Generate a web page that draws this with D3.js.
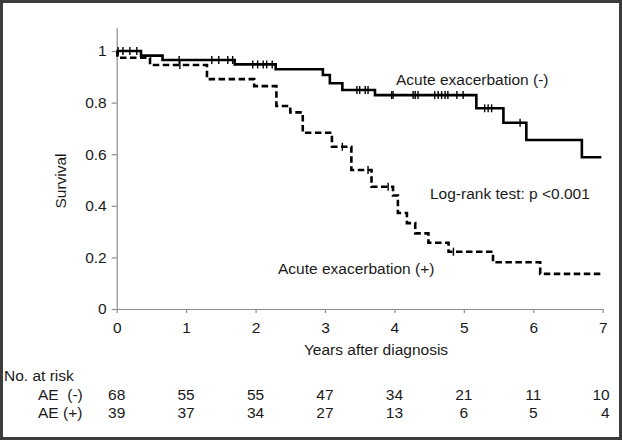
<!DOCTYPE html>
<html>
<head>
<meta charset="utf-8">
<script src="https://cdn.jsdelivr.net/npm/d3@7"></script>
<style>
  html, body { margin: 0; padding: 0; background: #fff; }
  svg { display: block; }
  text { font-family: "Liberation Sans", Arial, sans-serif; fill: #1a1a1a; }
</style>
</head>
<body>
<svg id="chart" width="622" height="440"></svg>
<script>
// ---- data ----
const xTicks = [0, 1, 2, 3, 4, 5, 6, 7];
const yTicks = [0, 0.2, 0.4, 0.6, 0.8, 1];
const yTickLabels = ["0", "0.2", "0.4", "0.6", "0.8", "1"];

// AE (-) Kaplan-Meier steps
const negTimes = [0, 0.35, 0.66, 1.70, 2.29, 2.97, 3.07, 3.25, 3.72, 5.18, 5.57, 5.90, 6.70, 6.98];
const negSurv  = [1.0, 0.982, 0.965, 0.948, 0.929, 0.907, 0.875, 0.849, 0.829, 0.778, 0.722, 0.655, 0.588, 0.588];
const negCensor = [0.02, 0.09, 0.19, 0.29, 0.90, 1.37, 1.47, 1.60, 1.67, 1.96, 2.03, 2.11, 2.16, 2.24,
                   3.46, 3.50, 3.58, 3.62, 3.96, 3.98, 4.27, 4.30, 4.34, 4.58, 4.63, 4.68, 4.73, 4.77,
                   4.90, 4.99, 5.30, 5.35, 5.40, 5.81];

// AE (+) Kaplan-Meier steps
const posTimes = [0, 0.01, 0.48, 1.30, 1.98, 2.30, 2.50, 2.68, 3.10, 3.38, 3.67, 3.98, 4.05, 4.18, 4.30, 4.49, 4.78, 5.42, 6.10, 6.98];
const posSurv  = [1.0, 0.974, 0.946, 0.891, 0.864, 0.787, 0.762, 0.683, 0.629, 0.539, 0.474, 0.440, 0.372, 0.333, 0.293, 0.257, 0.222, 0.181, 0.136, 0.136];
const posCensor = [0.91, 3.25, 3.62, 3.91, 4.85];

// numbers at risk
const riskNeg = [68, 55, 55, 47, 34, 21, 11, 10];
const riskPos = [39, 37, 34, 27, 13, 6, 5, 4];
const riskRowLabels = ["AE  (-)", "AE (+)"];

const labelNeg = "Acute exacerbation (-)";
const labelPos = "Acute exacerbation (+)";
const labelTest = "Log-rank test: p <0.001";
const xTitle = "Years after diagnosis";
const yTitle = "Survival";
const riskTitle = "No. at risk";

// ---- drawing ----
const svg = d3.select("#chart");
const W = 622, H = 440;

svg.append("rect").attr("x", 0).attr("y", 0).attr("width", W).attr("height", H).attr("fill", "#fff");
svg.append("rect").attr("x", 1.5).attr("y", 1.5).attr("width", W - 3).attr("height", H - 3)
  .attr("fill", "none").attr("stroke", "#3c3c3c").attr("stroke-width", 3);

const x = d3.scaleLinear().domain([0, 7]).range([116.7, 602.7]);
const y = d3.scaleLinear().domain([0, 1]).range([309, 51]);
const yAxisScale = d3.scaleLinear().domain([0, 1.09]).range([y(0), y(1.09)]);

const axisColor = "#8c8c8c";
const fontSize = 15.5;

// x axis
const gx = svg.append("g").attr("transform", `translate(0,${y(0)})`)
  .call(d3.axisBottom(x).tickValues(xTicks).tickFormat(d3.format("d")).tickSize(4).tickSizeOuter(0).tickPadding(9));
// y axis
const gy = svg.append("g").attr("transform", `translate(${x(0)},0)`)
  .call(d3.axisLeft(yAxisScale).tickValues(yTicks).tickFormat((d, i) => yTickLabels[i]).tickSize(5).tickSizeOuter(0).tickPadding(5));

[gx, gy].forEach(g => {
  g.select(".domain").attr("stroke", axisColor).attr("stroke-width", 1.2);
  g.selectAll(".tick line").attr("stroke", axisColor).attr("stroke-width", 1.2);
  g.selectAll(".tick text").attr("font-size", fontSize).attr("font-family", "Liberation Sans, Arial, sans-serif").attr("fill", "#1a1a1a");
});

// curves
const line = d3.line().x(d => x(d[0])).y(d => y(d[1])).curve(d3.curveStepAfter);
const negPts = negTimes.map((t, i) => [t, negSurv[i]]);
const posPts = posTimes.map((t, i) => [t, posSurv[i]]);

svg.append("path").attr("d", line(posPts)).attr("fill", "none")
  .attr("stroke", "#000").attr("stroke-width", 2.6).attr("stroke-dasharray", "6.5,3.5");
svg.append("path").attr("d", line(negPts)).attr("fill", "none")
  .attr("stroke", "#000").attr("stroke-width", 2.6);

function survAt(times, surv, t) {
  let v = surv[0];
  for (let i = 0; i < times.length; i++) { if (times[i] <= t) v = surv[i]; }
  return v;
}
function drawCensor(list, times, surv) {
  svg.append("g").selectAll("line").data(list).join("line")
    .attr("x1", d => x(d)).attr("x2", d => x(d))
    .attr("y1", d => y(survAt(times, surv, d)) - 4)
    .attr("y2", d => y(survAt(times, surv, d)) + 4)
    .attr("stroke", "#000").attr("stroke-width", 1.4);
}
drawCensor(negCensor, negTimes, negSurv);
drawCensor(posCensor, posTimes, posSurv);

// annotations
svg.append("text").attr("x", 396).attr("y", 85).attr("font-size", fontSize).text(labelNeg);
svg.append("text").attr("x", 430).attr("y", 198.5).attr("font-size", fontSize).text(labelTest);
svg.append("text").attr("x", 278).attr("y", 273.5).attr("font-size", fontSize).text(labelPos);

// axis titles
svg.append("text").attr("x", 376).attr("y", 355).attr("text-anchor", "middle").attr("font-size", fontSize).text(xTitle);
svg.append("text").attr("transform", "translate(66,181) rotate(-90)").attr("text-anchor", "middle")
  .attr("font-size", fontSize).text(yTitle);

// risk table
svg.append("text").attr("x", 4).attr("y", 381).attr("font-size", fontSize).text(riskTitle);
const rows = [riskNeg, riskPos];
const rowY = [399.5, 417.5];
rows.forEach((row, r) => {
  svg.append("text").attr("x", 38).attr("y", rowY[r]).attr("font-size", fontSize)
    .style("white-space", "pre").text(riskRowLabels[r]);
  svg.append("g").selectAll("text").data(row).join("text")
    .attr("x", (d, i) => i === row.length - 1 ? x(xTicks[i]) + 7 : x(xTicks[i]))
    .attr("y", rowY[r])
    .attr("text-anchor", (d, i) => i === row.length - 1 ? "end" : "middle")
    .attr("font-size", fontSize)
    .text(d => d);
});
</script>
</body>
</html>
